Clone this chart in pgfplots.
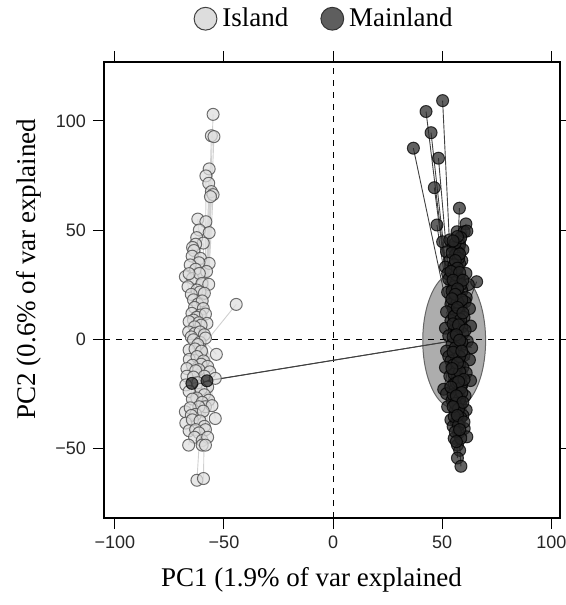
\documentclass[border=0pt]{standalone}
\usepackage{pgfplots}
\usepackage{pgfplotstable}
\pgfplotsset{compat=1.18}
\usepackage{fontspec}
\setmainfont{Liberation Serif}
\setsansfont{Liberation Sans}
\definecolor{islfill}{HTML}{DDDDDD}
\definecolor{islline}{HTML}{D0D0D0}
\definecolor{mainfill}{HTML}{262626}
\definecolor{ellfill}{HTML}{ADADAD}
\definecolor{legmain}{HTML}{5E5E5E}

\pgfplotstableread{
x y
-55.0 103.0
-55.8 93.2
-54.6 92.8
-56.8 78.0
-58.3 74.8
-57.0 71.4
-55.8 67.6
-55.0 66.2
-56.2 65.3
-62.0 55.0
-58.3 53.8
-61.3 50.0
-56.8 48.8
-62.5 46.5
-59.5 44.0
-63.0 43.5
-64.4 42.0
-63.8 40.6
-64.6 38.0
-60.8 37.0
-56.8 34.7
-61.5 35.0
-65.5 34.0
-63.0 32.0
-58.0 31.0
-67.7 28.6
-64.4 27.8
-61.3 30.1
-60.1 25.5
-57.0 25.1
-66.0 30.0
-66.5 24.0
-62.4 22.5
-61.0 21.6
-59.0 21.0
-65.0 20.5
-64.0 18.0
-62.0 16.0
-60.0 17.5
-63.5 14.5
-59.5 14.0
-44.4 15.9
-64.7 11.8
-60.9 11.0
-62.5 10.0
-58.5 11.5
-64.0 8.7
-66.0 8.0
-61.5 7.5
-57.8 7.2
-60.5 6.4
-63.5 5.6
-66.2 3.3
-63.3 2.6
-61.0 3.3
-59.0 2.0
-65.0 1.0
-64.0 -0.3
-61.0 -1.5
-58.5 0.5
-62.0 -2.5
-66.0 -5.0
-63.3 -4.5
-60.3 -5.5
-53.5 -7.0
-65.9 -9.3
-62.4 -8.0
-59.4 -10.0
-60.5 -11.5
-64.5 -12.0
-57.5 -12.5
-67.0 -13.5
-61.5 -14.0
-63.0 -14.5
-56.5 -15.0
-59.0 -17.0
-67.0 -17.0
-64.0 -17.4
-54.0 -18.0
-62.0 -20.0
-67.5 -21.0
-57.5 -22.0
-60.5 -23.0
-66.0 -24.0
-59.0 -25.5
-62.5 -27.0
-64.5 -27.5
-57.0 -28.0
-60.0 -29.0
-58.5 -31.0
-61.5 -31.0
-55.5 -30.5
-67.7 -33.3
-65.5 -31.5
-63.0 -34.5
-59.5 -33.0
-65.0 -35.0
-54.0 -36.4
-67.5 -38.5
-64.5 -37.0
-61.0 -37.5
-59.0 -40.0
-66.0 -42.0
-63.0 -41.5
-58.5 -41.5
-61.5 -43.0
-63.5 -45.0
-60.0 -46.5
-57.5 -45.0
-66.2 -48.6
-60.0 -48.6
-58.5 -48.6
-62.4 -64.7
-59.4 -63.9
}\island

\pgfplotstableread{
x y
50.2 109.3
42.6 104.3
44.9 94.6
36.8 87.5
48.3 82.9
46.4 69.4
57.9 60.0
47.6 52.3
60.9 52.8
56.8 49.2
60.1 49.2
61.3 49.5
50.2 44.6
57.9 43.1
53.5 45.5
55.0 42.0
59.5 41.0
57.0 40.0
52.0 40.0
56.0 38.5
59.0 36.0
53.5 36.0
58.0 34.5
51.5 33.0
55.0 31.5
60.9 30.1
52.5 30.0
65.8 26.3
57.5 28.0
53.0 27.5
56.5 26.0
62.0 25.0
55.5 24.0
59.0 22.0
52.5 21.5
58.0 20.0
61.0 19.0
56.0 18.5
60.5 17.0
54.0 16.0
58.5 15.0
55.0 14.0
62.5 14.0
57.5 13.0
52.0 12.5
56.5 11.5
60.0 10.0
56.0 9.0
54.0 8.5
58.0 7.0
63.0 6.0
59.0 5.5
51.5 5.0
55.5 4.0
59.5 2.5
53.0 1.5
57.0 0.0
61.5 -1.0
57.5 -2.0
54.5 -2.5
58.5 -3.5
63.5 -4.0
52.0 -5.5
56.0 -6.5
60.0 -7.5
53.0 -8.0
56.5 -9.0
62.5 -9.5
54.0 -10.0
58.0 -11.5
55.0 -12.0
51.5 -13.0
59.5 -13.0
56.5 -14.5
61.0 -15.5
53.5 -17.0
57.0 -17.0
58.5 -18.5
63.0 -19.0
55.5 -20.5
59.0 -21.0
50.7 -23.0
56.0 -23.0
57.5 -24.0
52.0 -25.0
60.5 -26.0
57.0 -27.0
54.5 -28.0
58.5 -30.0
52.5 -31.0
61.0 -32.5
56.0 -33.0
59.5 -35.0
58.5 -36.0
54.0 -37.0
56.5 -38.0
55.0 -40.0
60.1 -41.0
57.5 -43.0
61.3 -44.8
55.5 -45.5
57.0 -48.6
58.0 -51.0
57.0 -54.5
58.6 -58.3
56.0 44.0
58.5 46.5
54.5 39.5
57.5 37.0
55.5 34.0
56.5 29.5
58.5 25.0
54.5 22.0
57.0 17.0
55.5 10.5
58.5 9.0
57.0 4.5
55.0 1.0
59.0 -1.5
56.0 -4.0
58.0 -8.0
55.5 -16.0
58.0 -15.0
56.5 -20.0
58.5 -22.5
55.0 -25.5
58.0 -27.5
56.0 -29.5
57.5 -32.0
55.5 -35.5
57.5 -39.5
58.5 -45.5
56.0 -42.5
57.0 47.0
55.0 45.0
58.0 39.0
56.0 36.0
57.0 32.5
54.0 31.0
58.0 30.5
55.0 27.0
59.5 27.0
57.0 23.0
56.0 20.5
59.0 18.0
54.5 18.5
57.0 14.5
59.5 12.0
55.0 7.0
57.5 6.5
60.5 4.0
56.5 2.0
58.0 -0.5
55.0 -6.0
59.0 -5.5
57.0 -11.0
54.5 -13.5
60.0 -18.5
57.5 -19.5
54.0 -22.0
59.0 -24.5
56.5 -26.0
59.5 -29.0
55.0 -31.0
57.0 -35.0
60.0 -38.0
58.0 -41.5
56.5 -47.0
-64.7 -20.3
-57.8 -19.1
}\mainland

\begin{document}
\begin{tikzpicture}
\begin{axis}[
  scale only axis,
  width=228pt, height=228pt,
  xmin=-105, xmax=104, ymin=-82, ymax=127,
  axis line style={line width=0.6pt},
  tick align=outside, tick pos=both,
  major tick length=5.5pt,
  tick style={line width=0.5pt, black},
  xtick={-100,-50,0,50,100}, xticklabels={−100,−50,0,50,100},
  ytick={-50,0,50,100}, yticklabels={−50,0,50,100},
  ticklabel style={font=\sffamily\fontsize{9}{10}\selectfont, text=black!85},
  xlabel={PC1 (1.9\% of var explained},
  ylabel={PC2 (0.6\% of var explained},
  label style={font=\fontsize{13.5}{15}\selectfont},
  xlabel style={at={(axis description cs:0.455,-0.136)}, anchor=center},
  ylabel style={at={(axis description cs:-0.164,0.546)}, anchor=center},
  legend style={at={(axis description cs:0.485,1)}, anchor=south, yshift=12pt,
    draw=none, fill=none, font=\fontsize{13.5}{15}\selectfont,
    /tikz/every odd column/.append style={column sep=0.5pt},
    /tikz/every even column/.append style={column sep=14pt}},
  legend columns=2,
  legend cell align=left,
  clip=true,
]
% island spider lines
\addplot[forget plot, color=islline, line width=0.45pt,
  quiver={u=\thisrow{x}+58.5, v=\thisrow{y}+1.5}]
  table[x expr=-58.5, y expr=-1.5] {\island};
% island points
\addplot[only marks, mark=*, mark size=3pt,
  mark options={fill=islfill, fill opacity=0.7, draw=black!70, draw opacity=0.8, line width=0.5pt},
  legend image code/.code={\draw[fill=islfill, draw=black!75, line width=0.5pt] (0pt,0pt) circle (5.7pt);}]
  table {\island};
\addlegendentry{Island}
% mainland ellipse
\draw[fill=ellfill, draw=black!60, line width=0.5pt] (axis cs:55.5,-0.7) ellipse [x radius=14.4, y radius=31];
% zero lines
\draw[dashed, line width=0.5pt] (axis cs:0,-82) -- (axis cs:0,127);
\draw[dashed, line width=0.5pt] (axis cs:-105,0) -- (axis cs:104,0);
% mainland spider lines
\addplot[forget plot, color=black!75, line width=0.45pt,
  quiver={u=\thisrow{x}-55.5, v=\thisrow{y}+0.7}]
  table[x expr=55.5, y expr=-0.7] {\mainland};
% mainland points
\addplot[only marks, mark=*, mark size=3pt,
  mark options={fill=mainfill, fill opacity=0.72, draw=black, draw opacity=0.75, line width=0.5pt},
  legend image code/.code={\draw[fill=legmain, draw=black!80, line width=0.5pt] (0pt,0pt) circle (5.7pt);}]
  table {\mainland};
\addlegendentry{Mainland}
\end{axis}
\pgfresetboundingbox
\path[use as bounding box] ([shift={(-52pt,-43.5pt)}]current axis.south west) rectangle ([shift={(3pt,31pt)}]current axis.north east);
\end{tikzpicture}
\end{document}
